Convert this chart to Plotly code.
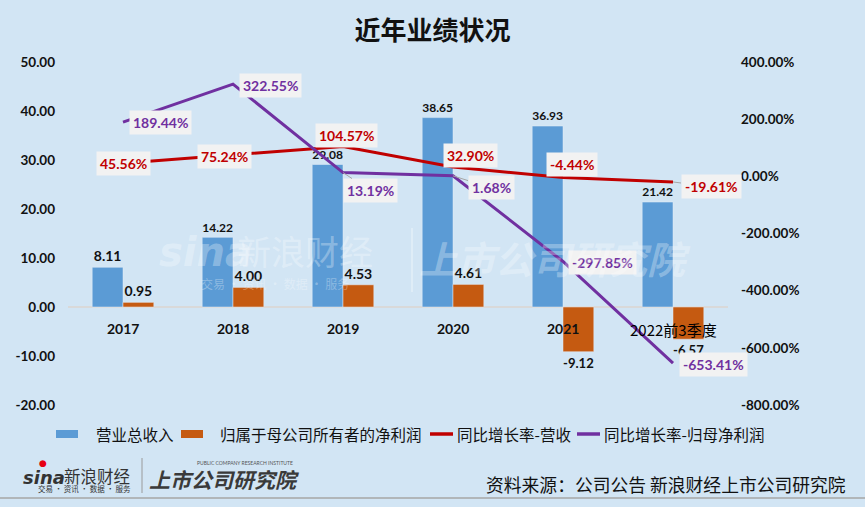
import plotly.graph_objects as go

# ---------------- data ----------------
categories = ["2017", "2018", "2019", "2020", "2021", "2022前3季度"]
revenue = [8.11, 14.22, 29.08, 38.65, 36.93, 21.42]
net_profit = [0.95, 4.00, 4.53, 4.61, -9.12, -6.57]
rev_growth = [45.56, 75.24, 104.57, 32.90, -4.44, -19.61]
profit_growth = [189.44, 322.55, 13.19, 1.68, -297.85, -653.41]

left_ticks = [-20, -10, 0, 10, 20, 30, 40, 50]
right_ticks = [-800, -600, -400, -200, 0, 200, 400]

series_names = ["营业总收入", "归属于母公司所有者的净利润", "同比增长率-营收", "同比增长率-归母净利润"]

# ---------------- styling ----------------
W, H = 865, 507
ML, MR, MT, MB = 68, 137, 62, 102
PW, PH = W - ML - MR, H - MT - MB
BG = "#d2e5f4"
BLUE, ORANGE, RED, PURPLE = "#5b9bd5", "#c55a11", "#c00000", "#7030a0"
NUM_FONT = "Lato, 'Open Sans', sans-serif"
CJK = "'Noto Sans CJK SC', 'Noto Sans', sans-serif"


def px(x):
    return (x - ML) / PW


def py(y):
    return (H - MB - y) / PH


def paper_text(x, y, text, font, xanchor="center"):
    return dict(x=px(x), y=py(y), xref="paper", yref="paper", showarrow=False,
                xanchor=xanchor, yanchor="middle", text=text, font=font)


fig = go.Figure()

fig.add_trace(go.Bar(
    x=categories, y=revenue, name=series_names[0], marker_color=BLUE,
    texttemplate="%{y:.2f}", textposition="outside", cliponaxis=False,
    textfont=dict(family=NUM_FONT, size=14, color="#111111", weight="bold"),
    yaxis="y",
))
fig.add_trace(go.Bar(
    x=categories, y=net_profit, name=series_names[1], marker_color=ORANGE,
    texttemplate="%{y:.2f}", textposition="outside", cliponaxis=False,
    textfont=dict(family=NUM_FONT, size=14, color="#111111", weight="bold"),
    yaxis="y",
))
fig.add_trace(go.Scatter(
    x=categories, y=rev_growth, name=series_names[2], mode="lines",
    line=dict(color=RED, width=3), yaxis="y2", cliponaxis=False,
))
fig.add_trace(go.Scatter(
    x=categories, y=profit_growth, name=series_names[3], mode="lines",
    line=dict(color=PURPLE, width=3), yaxis="y2", cliponaxis=False,
))

annotations = []

# line data labels (pixel offsets from their points)
rev_offsets = [(0, 0), (-9, 2), (3, -11), (17, -11), (9, -13), (38, 5)]
rev_leader = [False, False, False, False, False, True]
pro_offsets = [(37, 0), (37, 1), (27, 18), (38, 12), (39, 1), (40, 1)]
pro_leader = [False, False, True, True, False, False]

for vals, offs, leads, col in [(rev_growth, rev_offsets, rev_leader, RED),
                                (profit_growth, pro_offsets, pro_leader, PURPLE)]:
    for i, (v, (ax, ay), lead) in enumerate(zip(vals, offs, leads)):
        annotations.append(dict(
            x=i, y=v, xref="x", yref="y2", text=f"{v:.2f}%",
            showarrow=True, ax=ax, ay=ay, arrowhead=0, arrowwidth=1,
            arrowcolor="#a6a6a6" if lead else "rgba(0,0,0,0)",
            bgcolor="#f2f2f2", borderpad=3,
            font=dict(family=NUM_FONT, size=14, color=col, weight="bold"),
        ))

# category labels next to the zero line
for i, c in enumerate(categories):
    if c.isdigit():
        annotations.append(dict(
            x=i, y=0, xref="x", yref="y", yshift=-21, showarrow=False, text=c,
            xanchor="center", yanchor="middle",
            font=dict(family=NUM_FONT, size=14, color="#111111", weight="bold"),
        ))
    else:
        annotations.append(dict(
            x=i, y=0, xref="x", yref="y", yshift=-22, showarrow=False, text=c,
            xanchor="center", yanchor="middle",
            font=dict(family=CJK, size=15, color="#000000"),
        ))

# watermark
wm = "rgba(255,255,255,0.3)"
annotations += [
    paper_text(205, 252, "<b><i>sina</i></b>", dict(family="'DejaVu Sans', sans-serif", size=40, color=wm)),
    paper_text(305, 250, "新浪财经", dict(family=CJK, size=34, color=wm)),
    paper_text(275, 283, "交易 · 资讯 · 数据 · 服务", dict(family=CJK, size=12, color=wm)),
    paper_text(555, 257, "<b><i>上市公司研究院</i></b>", dict(family=CJK, size=38, color=wm)),
]

# manual legend
legend_y = 434
annotations += [
    paper_text(94, legend_y, series_names[0], dict(family=CJK, size=15.5, color="#111111"), "left"),
    paper_text(218, legend_y, series_names[1], dict(family=CJK, size=15.5, color="#111111"), "left"),
    paper_text(455, legend_y, series_names[2], dict(family=CJK, size=15.5, color="#111111"), "left"),
    paper_text(602, legend_y, series_names[3], dict(family=CJK, size=15.5, color="#111111"), "left"),
]

# footer
annotations += [
    paper_text(43, 463, "●", dict(family="'DejaVu Sans', sans-serif", size=9, color="#e60012")),
    paper_text(44, 477, "<b><i>sina</i></b>", dict(family="'DejaVu Sans', sans-serif", size=18, color="#333333")),
    paper_text(97, 476, "新浪财经", dict(family=CJK, size=16.5, color="#333333")),
    paper_text(84, 488, "交易 · 资讯 · 数据 · 服务", dict(family=CJK, size=7.5, color="#333333")),
    paper_text(245, 463, "PUBLIC COMPANY RESEARCH INSTITUTE", dict(family=NUM_FONT, size=5, color="#555555")),
    paper_text(224, 479, "<b><i>上市公司研究院</i></b>", dict(family=CJK, size=21, color="#3a3a3a")),
    paper_text(848, 484, "资料来源：公司公告 新浪财经上市公司研究院",
               dict(family=CJK, size=17.8, color="#111111"), "right"),
]

shapes = [
    # legend swatches
    dict(type="rect", xref="paper", yref="paper", x0=px(56), x1=px(78), y0=py(438), y1=py(430),
         fillcolor=BLUE, line=dict(width=0)),
    dict(type="rect", xref="paper", yref="paper", x0=px(181), x1=px(203), y0=py(438), y1=py(430),
         fillcolor=ORANGE, line=dict(width=0)),
    dict(type="line", xref="paper", yref="paper", x0=px(430), x1=px(453), y0=py(legend_y), y1=py(legend_y),
         line=dict(color=RED, width=3.5)),
    dict(type="line", xref="paper", yref="paper", x0=px(577), x1=px(600), y0=py(legend_y), y1=py(legend_y),
         line=dict(color=PURPLE, width=3.5)),
    # footer
    dict(type="line", xref="paper", yref="paper", x0=px(0), x1=px(W), y0=py(498), y1=py(498),
         line=dict(color="#a6a6a6", width=1.5)),
    dict(type="line", xref="paper", yref="paper", x0=px(142), x1=px(142), y0=py(458), y1=py(493),
         line=dict(color="#9a9a9a", width=1)),
    # watermark divider
    dict(type="line", xref="paper", yref="paper", x0=px(412), x1=px(412), y0=py(228), y1=py(292),
         line=dict(color="rgba(255,255,255,0.3)", width=2)),
]

fig.update_layout(
    width=W, height=H,
    margin=dict(l=ML, r=MR, t=MT, b=MB),
    paper_bgcolor=BG, plot_bgcolor=BG,
    barmode="group", bargap=0.44, bargroupgap=0,
    title=dict(text="<b>近年业绩状况</b>", x=0.5, xref="container", xanchor="center",
               y=1 - 31 / H, yref="container", yanchor="middle",
               font=dict(family=CJK, size=26, color="#111111")),
    xaxis=dict(type="category", showticklabels=False, showgrid=False, zeroline=False, showline=False,
               range=[-0.5, len(categories) - 0.5], ticks=""),
    yaxis=dict(range=[-20, 50], tickvals=left_ticks, ticktext=[f"{v:.2f}" for v in left_ticks],
               showgrid=False, zeroline=True, zerolinecolor="#d9d9d9", zerolinewidth=1.5,
               showline=False, ticklabelstandoff=12,
               tickfont=dict(family=NUM_FONT, size=13.5, color="#111111", weight="bold")),
    yaxis2=dict(range=[-800, 400], tickvals=right_ticks, ticktext=[f"{v:.2f}%" for v in right_ticks],
                overlaying="y", side="right", showgrid=False, zeroline=False, showline=False,
                ticklabelstandoff=12,
                tickfont=dict(family=NUM_FONT, size=13.5, color="#111111", weight="bold")),
    showlegend=False,
    annotations=annotations,
    shapes=shapes,
)

fig.write_html(
    "out.html",
    config={"displayModeBar": False},
    post_script="document.body.style.margin='0px';document.body.style.background='%s';" % BG,
)
